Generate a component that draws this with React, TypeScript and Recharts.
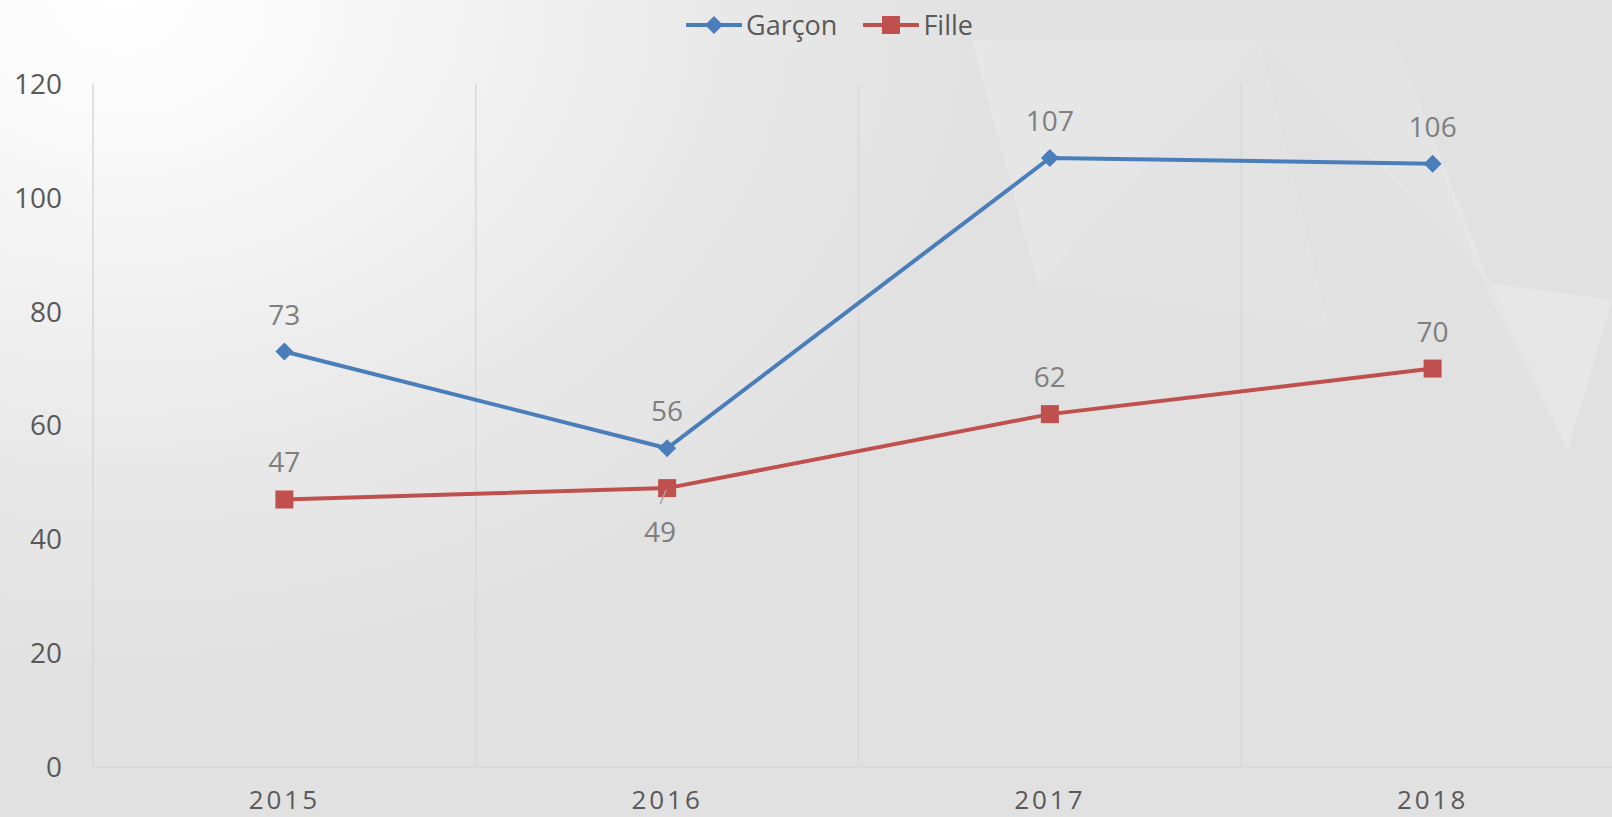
import { LineChart, Line, XAxis, YAxis, CartesianGrid, Legend, LabelList } from "recharts";

const years = ["2015", "2016", "2017", "2018"];
const garcon = [73, 56, 107, 106];
const fille = [47, 49, 62, 70];
const yTicks = [0, 20, 40, 60, 80, 100, 120];

const BLUE = "#4a7ebb";
const RED = "#c0504d";
const FONT = "'Open Sans', 'Liberation Sans', sans-serif";

const data = years.map((y, i) => ({ year: y, Garçon: garcon[i], Fille: fille[i] }));

function Diamond(props: any) {
  const { cx, cy } = props;
  if (cx == null || cy == null) return null;
  const r = 9;
  return <polygon points={`${cx},${cy - r} ${cx + r},${cy} ${cx},${cy + r} ${cx - r},${cy}`} fill={BLUE} />;
}

function Square(props: any) {
  const { cx, cy } = props;
  if (cx == null || cy == null) return null;
  return <rect x={cx - 9} y={cy - 9} width={18} height={18} fill={RED} />;
}

function makeLabel(below: boolean[]) {
  return (props: any) => {
    const { x, y, value, index } = props;
    if (below[index]) {
      return (
        <g>
          <line x1={x - 1} y1={y + 2} x2={x - 7} y2={y + 16} stroke="#a6a6a6" strokeWidth={1.5} />
          <text x={x - 7} y={y + 43} textAnchor="middle" dominantBaseline="central" fill="#7f7f7f" fontSize={28} fontFamily={FONT}>
            {value}
          </text>
        </g>
      );
    }
    return (
      <text x={x} y={y - 38} textAnchor="middle" dominantBaseline="central" fill="#7f7f7f" fontSize={28} fontFamily={FONT}>
        {value}
      </text>
    );
  };
}

function LegendContent() {
  const item = (name: string, color: string, marker: "d" | "s") => (
    <div style={{ display: "flex", alignItems: "center", marginRight: 26 }}>
      <svg width={56} height={24}>
        <line x1={1} y1={12} x2={55} y2={12} stroke={color} strokeWidth={4} strokeLinecap="round" />
        {marker === "d" ? (
          <polygon points="28,3 37,12 28,21 19,12" fill={color} />
        ) : (
          <rect x={19} y={3} width={18} height={18} fill={color} />
        )}
      </svg>
      <span style={{ fontSize: 27, color: "#595959", marginLeft: 4, fontFamily: FONT }}>{name}</span>
    </div>
  );
  return (
    <div style={{ display: "flex", alignItems: "center", paddingLeft: 686 }}>
      {item("Garçon", BLUE, "d")}
      {item("Fille", RED, "s")}
    </div>
  );
}

export default function App() {
  return (
    <div
      style={{
        position: "fixed",
        left: 0,
        top: 0,
        width: 1612,
        height: 817,
        overflow: "hidden",
        background:
          "radial-gradient(ellipse 900px 700px at 120px 0px, #ffffff 0%, #f6f6f6 30%, #e9e9e9 65%, #e1e1e1 100%), #e0e0e0",
        fontFamily: FONT,
      }}
    >
      <svg width={1612} height={817} style={{ position: "absolute", left: 0, top: 0 }}>
        <polygon points="972,41 1038,285 1260,41" fill="#ffffff" opacity={0.18} />
        <polygon points="1260,41 1395,41 1490,283" fill="#ffffff" opacity={0.12} />
        <polygon points="1490,283 1612,300 1568,450" fill="#ffffff" opacity={0.2} />
        <polygon points="1395,41 1490,283 1568,450 1490,300" fill="#ffffff" opacity={0.1} />
        <polygon points="1038,285 1260,41 1330,330" fill="#ffffff" opacity={0.08} />
      </svg>
      <div style={{ position: "absolute", left: 0, top: 0 }}>
        <LineChart width={1640} height={817} data={data} margin={{ top: 84, right: 16, bottom: 0, left: 0 }}>
          <CartesianGrid
            horizontal={false}
            stroke="#d9d9d9"
            strokeWidth={1.5}
            verticalCoordinatesGenerator={({ offset }: any) =>
              [0, 1, 2, 3].map((i) => offset.left + (offset.width * i) / years.length)
            }
          />
          <XAxis
            dataKey="year"
            scale="band"
            height={50}
            axisLine={{ stroke: "#d9d9d9", strokeWidth: 1.5 }}
            tickLine={false}
            tickMargin={18}
            tick={{ fill: "#595959", fontSize: 26, letterSpacing: 3, fontFamily: FONT }}
          />
          <YAxis
            width={93}
            domain={[0, 120]}
            ticks={yTicks}
            axisLine={false}
            tickLine={false}
            tickMargin={25}
            tick={{ fill: "#595959", fontSize: 28, fontFamily: FONT }}
          />
          <Legend verticalAlign="middle" align="center" wrapperStyle={{ top: 6, left: 0, width: 1612 }} content={<LegendContent />} />
          <Line
            type="linear"
            dataKey="Garçon"
            stroke={BLUE}
            strokeWidth={4}
            dot={<Diamond />}
            activeDot={false}
            isAnimationActive={false}
          >
            <LabelList dataKey="Garçon" content={makeLabel([false, false, false, false])} />
          </Line>
          <Line
            type="linear"
            dataKey="Fille"
            stroke={RED}
            strokeWidth={4}
            dot={<Square />}
            activeDot={false}
            isAnimationActive={false}
          >
            <LabelList dataKey="Fille" content={makeLabel([false, true, false, false])} />
          </Line>
        </LineChart>
      </div>
    </div>
  );
}
